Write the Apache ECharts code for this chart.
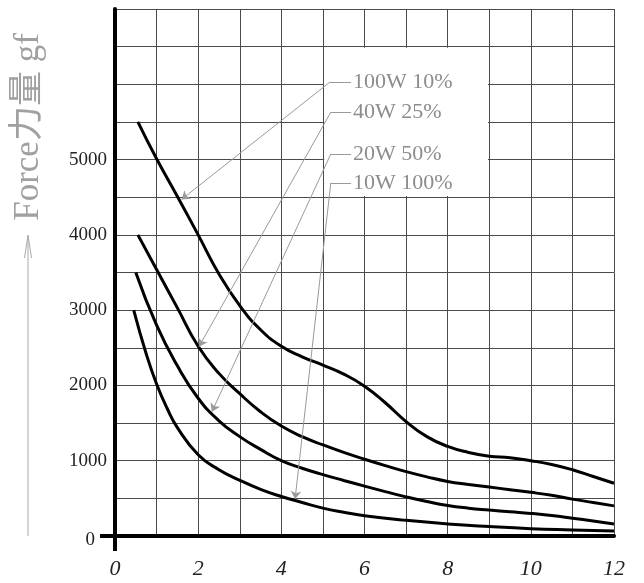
<!DOCTYPE html>
<html>
<head>
<meta charset="utf-8">
<script src="https://cdn.jsdelivr.net/npm/echarts@6/dist/echarts.min.js"></script>
<style>
    html, body {margin: 0; padding: 0; background: #fff;}
    #main {width: 644px; height: 583px;}
</style>
</head>
<body>
<div id="main"></div>
<script>
    // 数据：四条曲线 (x 单位 0-12，y 单位 gf)
    var x100 = [0.55, 1, 1.5, 2, 2.5, 3, 3.5, 4, 4.5, 5, 5.5, 6, 6.5, 7, 7.5, 8, 8.5, 9, 9.5, 10, 10.5, 11, 11.5, 12];
    var y100 = [5500, 5010, 4510, 4000, 3480, 3060, 2740, 2520, 2380, 2270, 2150, 1990, 1770, 1520, 1320, 1190, 1110, 1060, 1040, 1000, 950, 880, 790, 700];

    var x40 = [0.55, 1, 1.5, 2, 2.5, 3, 3.5, 4, 4.5, 5, 5.5, 6, 6.5, 7, 7.5, 8, 8.5, 9, 9.5, 10, 10.5, 11, 11.5, 12];
    var y40 = [4000, 3540, 3030, 2520, 2160, 1890, 1650, 1460, 1320, 1210, 1110, 1020, 935, 855, 785, 725, 685, 650, 615, 580, 540, 490, 445, 400];

    var x20 = [0.5, 1, 1.5, 2, 2.5, 3, 3.5, 4, 4.5, 5, 5.5, 6, 6.5, 7, 7.5, 8, 8.5, 9, 9.5, 10, 10.5, 11, 11.5, 12];
    var y20 = [3500, 2800, 2260, 1830, 1530, 1320, 1150, 1000, 900, 815, 738, 663, 590, 520, 458, 405, 370, 345, 322, 300, 272, 237, 200, 160];

    var x10 = [0.45, 0.75, 1, 1.25, 1.5, 2, 2.5, 3, 3.5, 4, 4.5, 5, 5.5, 6, 7, 8, 9, 10, 11, 12];
    var y10 = [3000, 2420, 2020, 1700, 1440, 1080, 880, 740, 620, 525, 445, 370, 315, 270, 208, 160, 125, 97, 80, 65];

    var seriesNames = ['100W 10%', '40W 25%', '20W 50%', '10W 100%'];
    var xTickLabels = [0, 2, 4, 6, 8, 10, 12];
    var yTickLabels = [0, 1000, 2000, 3000, 4000, 5000];
    var yTitle = 'Force力量 gf';

    var serif = '"Liberation Serif", "DejaVu Serif", serif';
    var gray = '#8c8c8c';

    function pairs(xs, ys) {
        var out = [];
        for (var i = 0; i < xs.length; i++) {
            out.push([xs[i], ys[i]]);
        }
        return out;
    }

    // 引线：标签左端 -> 折点 -> 箭头 (数据坐标)
    var leaders = [
        {y: 6030, bend: 5.17, tip: [1.6, 4470]},
        {y: 5630, bend: 5.19, tip: [2.02, 2515]},
        {y: 5075, bend: 5.19, tip: [2.33, 1650]},
        {y: 4690, bend: 5.19, tip: [4.33, 490]}
    ];
    var labelX = 5.676;

    function leaderLines(i) {
        var l = leaders[i];
        return {
            silent: true,
            animation: false,
            precision: 4,
            lineStyle: {color: '#9a9a9a', width: 1, type: 'solid'},
            emphasis: {disabled: true},
            data: [
                [
                    {coord: [l.bend, l.y], symbol: 'none', name: seriesNames[i],
                        label: {show: true, position: 'end', distance: 2, formatter: '{b}',
                            color: gray, fontFamily: serif, fontSize: 22}},
                    {coord: [labelX, l.y], symbol: 'none', name: seriesNames[i]}
                ],
                [
                    {coord: [l.bend, l.y], symbol: 'none', label: {show: false}},
                    {coord: l.tip, symbol: 'arrow', symbolSize: 8}
                ]
            ]
        };
    }

    function curve(i, xs, ys) {
        return {
            name: seriesNames[i],
            type: 'line',
            data: pairs(xs, ys),
            smooth: 0.5,
            showSymbol: false,
            symbol: 'none',
            animation: false,
            z: 3,
            lineStyle: {color: '#000', width: 3},
            markLine: leaderLines(i)
        };
    }

    var chart = echarts.init(document.getElementById('main'));
    var option = {
        backgroundColor: '#fff',
        grid: {left: 115, right: 30, top: 9, bottom: 47},
        xAxis: {
            type: 'value',
            min: 0,
            max: 12,
            interval: 1,
            axisLine: {show: true, onZero: false, lineStyle: {color: '#000', width: 4}},
            axisTick: {show: false},
            splitLine: {show: true, lineStyle: {color: '#4a4a4a', width: 1}},
            axisLabel: {
                margin: 22,
                color: '#222',
                fontFamily: serif,
                fontStyle: 'italic',
                fontSize: 22,
                formatter: function (v) {
                    return xTickLabels.indexOf(v) >= 0 ? String(v) : '';
                }
            }
        },
        yAxis: {
            type: 'value',
            min: 0,
            max: 7000,
            interval: 500,
            axisLine: {show: true, onZero: false, lineStyle: {color: '#000', width: 4}},
            axisTick: {show: false},
            splitLine: {show: true, lineStyle: {color: '#4a4a4a', width: 1}},
            axisLabel: {
                margin: 8,
                color: '#222',
                fontFamily: serif,
                fontSize: 19,
                formatter: function (v) {
                    if (v === 0) return '{z|0}';
                    return yTickLabels.indexOf(v) >= 0 ? String(v) : '';
                },
                rich: {
                    z: {padding: [8, 12, 0, 0], color: '#222', fontFamily: serif, fontSize: 19}
                }
            }
        },
        graphic: [
            // 坐标轴延伸
            {type: 'line', shape: {x1: 100, y1: 536, x2: 116, y2: 536}, style: {stroke: '#000', lineWidth: 4}},
            {type: 'line', shape: {x1: 115, y1: 534, x2: 115, y2: 551}, style: {stroke: '#000', lineWidth: 4}},
            // y 轴标题箭头
            {type: 'line', shape: {x1: 28, y1: 536, x2: 28, y2: 236}, style: {stroke: '#aaa', lineWidth: 1}},
            {type: 'polyline', shape: {points: [[24.5, 258], [28, 235], [31.5, 258]]}, style: {stroke: '#aaa', lineWidth: 1, fill: null}},
            {
                type: 'text',
                x: 29,
                y: 127,
                rotation: Math.PI / 2,
                style: {
                    text: yTitle,
                    fill: '#a0a0a0',
                    font: '35px "Liberation Serif", "Noto Sans CJK SC", serif',
                    align: 'center',
                    verticalAlign: 'middle'
                }
            }
        ],
        series: [
            {
                // 标签区白底
                type: 'line',
                data: [],
                z: 1,
                silent: true,
                markArea: {
                    silent: true,
                    animation: false,
                    itemStyle: {color: '#fff'},
                    data: [[{coord: [5.03, 6485]}, {coord: [8.97, 4515]}]]
                }
            },
            curve(0, x100, y100),
            curve(1, x40, y40),
            curve(2, x20, y20),
            curve(3, x10, y10)
        ]
    };
    chart.setOption(option);
</script>
</body>
</html>
